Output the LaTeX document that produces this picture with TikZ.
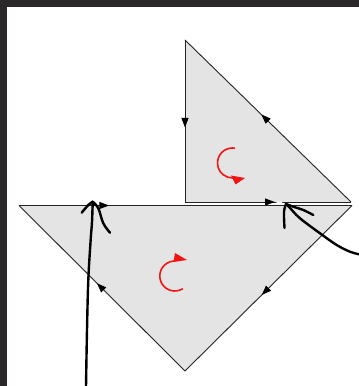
\documentclass[tikz,border=0pt]{standalone}
\usetikzlibrary{arrows.meta,decorations.markings,calc}
\definecolor{frame}{RGB}{42,40,40}
\definecolor{trifill}{RGB}{228,228,228}
\definecolor{triline}{RGB}{35,35,35}
\definecolor{rot}{RGB}{240,20,20}
\tikzset{
  edgearrow/.style={draw=triline,line width=0.9pt,postaction={decorate},
    decoration={markings,mark=at position #1 with {\arrow[black]{Triangle[length=9.5pt,width=7pt]}}}},
  hand/.style={draw=black,line width=2.4pt,line cap=round,line join=round},
  turn/.style={draw=rot,line width=1.6pt},
  turnhead/.style={fill=rot}
}
\begin{document}
\begin{tikzpicture}[x=1pt,y=1pt]
\useasboundingbox (0,0) rectangle (359,386);
\fill[white] (0,0) rectangle (359,386);
\fill[frame] (0,0) rectangle (7,386);
\fill[frame] (0,379) rectangle (359,386);
% vertices
\coordinate (A1) at (185,346);
\coordinate (B1) at (185,184);
\coordinate (C1) at (351,184);
\coordinate (A2) at (19,180.5);
\coordinate (B2) at (352,180.5);
\coordinate (C2) at (185,15);
% triangles
\fill[trifill] (A1) -- (B1) -- (C1) -- cycle;
\fill[trifill] (A2) -- (B2) -- (C2) -- cycle;
\path[edgearrow=0.54] (A1) -- (B1);
\path[edgearrow=0.54] (B1) -- (C1);
\path[edgearrow=0.54] (C1) -- (A1);
\path[edgearrow=0.27] (A2) -- (B2);
\path[edgearrow=0.54] (B2) -- (C2);
\path[edgearrow=0.53] (C2) -- (A2);
% red turning arrows
\coordinate (U) at (232.5,223);
\coordinate (L) at (174.8,110);
\draw[turn] ($(U)+(80:15)$) arc[start angle=80,end angle=272,radius=15];
\fill[turnhead] (245,208) -- (231,210.5) -- (235.5,201.5) -- cycle;
\draw[turn] ($(L)+(-58:15)$) arc[start angle=-58,end angle=-268,radius=15];
\fill[turnhead] (187,126) -- (175,133) -- (173.5,124) -- cycle;
% white gap
\draw[white,line width=2.2pt] (276.5,183.5) -- (282,183);
% hand-drawn arrows
\coordinate (T1) at (92.7,184.3);
\draw[hand] plot[smooth,tension=0.6] coordinates {(86,-1) (87,56) (88.3,106) (90.7,146.7) (92,164) (T1)};
\draw[hand] plot[smooth,tension=0.6] coordinates {(81.7,173.3) (88.3,181) (T1)};
\draw[hand] plot[smooth,tension=0.6] coordinates {(T1) (98.3,177.7) (103.3,162.7) (110,153.3)};
\coordinate (T2) at (286,182);
\draw[hand] plot[smooth,tension=0.6] coordinates {(360,131.5) (350,134.3) (336.7,141) (320,152.7) (300,167.7) (290,178) (T2)};
\draw[hand] plot[smooth,tension=0.6] coordinates {(T2) (284,174) (284.5,158)};
\draw[hand] plot[smooth,tension=0.6] coordinates {(T2) (293.3,179.3) (303.3,176) (313.3,171)};
\end{tikzpicture}
\end{document}
